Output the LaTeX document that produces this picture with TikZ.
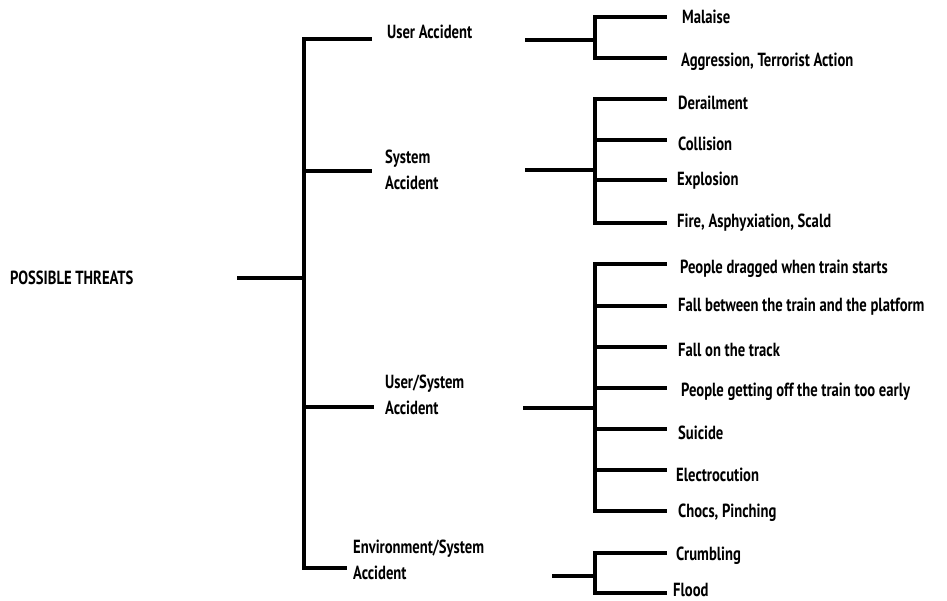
\documentclass[tikz,border=0pt]{standalone}
\usepackage{fontspec}
\setmainfont{PT Sans}[FakeStretch=0.77]
\begin{document}
\begin{tikzpicture}[x=1pt,y=-1pt,
  lbl/.style={font=\bfseries\fontsize{19}{26}\selectfont, anchor=west, inner sep=0pt, align=left},
  br/.style={line width=4pt, line join=miter}]
\fill[white] (0,0) rectangle (947,601);
\useasboundingbox (0,0) rectangle (947,601);
% root
\node[lbl] (root) at (10,278) {POSSIBLE THREATS};
\coordinate (rootR) at (237,278);
\coordinate (mj) at (304,278);
% level 1
\node[lbl] (ua) at (387,32) {User Accident};
\node[lbl] (sa) at (385,170) {System\\Accident};
\node[lbl] (usa) at (385,394.5) {User/System\\Accident};
\node[lbl] (esa) at (353,560) {Environment/System\\Accident};
\coordinate (uaL) at (372,39);
\coordinate (saL) at (372,171);
\coordinate (usaL) at (374,407);
\coordinate (esaL) at (347,568);
\draw[br] (rootR) -- (mj);
\draw[br] (uaL) -| (mj) |- (esaL);
\draw[br] (mj) |- (saL);
\draw[br] (mj) |- (usaL);
% level 1 right ends and junctions
\coordinate (uaR) at (525,40);  \coordinate (uaJ) at (595,40);
\coordinate (saR) at (525,170); \coordinate (saJ) at (595,170);
\coordinate (usaR) at (523,408); \coordinate (usaJ) at (595,408);
\coordinate (esaR) at (552,576); \coordinate (esaJ) at (595,576);
\draw[br] (uaR) -- (uaJ);
\draw[br] (saR) -- (saJ);
\draw[br] (usaR) -- (usaJ);
\draw[br] (esaR) -- (esaJ);
% leaves: name / y of line / text x / text y / text / junction
\foreach \n/\ly/\tx/\ty/\t/\j in {
  m1/17/682/17/{Malaise}/uaJ,
  m2/58/681/62/{Aggression, Terrorist Action}/uaJ,
  s1/99/678/103/{Derailment}/saJ,
  s2/140/678/144/{Collision}/saJ,
  s3/180/677/181/{Explosion}/saJ,
  s4/223/677/223/{Fire, Asphyxiation, Scald}/saJ,
  u1/264/680/269/{People dragged when train starts}/usaJ,
  u2/306/678/307/{Fall between the train and the platform}/usaJ,
  u3/347/678/350/{Fall on the track}/usaJ,
  u4/388/681/392/{People getting off the train too early}/usaJ,
  u5/429/678/433/{Suicide}/usaJ,
  u6/470/676/475/{Electrocution}/usaJ,
  u7/511/678/513/{Chocs, Pinching}/usaJ,
  e1/553/676/556/{Crumbling}/esaJ,
  e2/593/673/590/{Flood}/esaJ}
{
  \node[lbl] (\n) at (\tx,\ty) {\t};
  \coordinate (\n L) at (667,\ly);
  \draw[br] (\j) |- (\n L);
}
\end{tikzpicture}
\end{document}
